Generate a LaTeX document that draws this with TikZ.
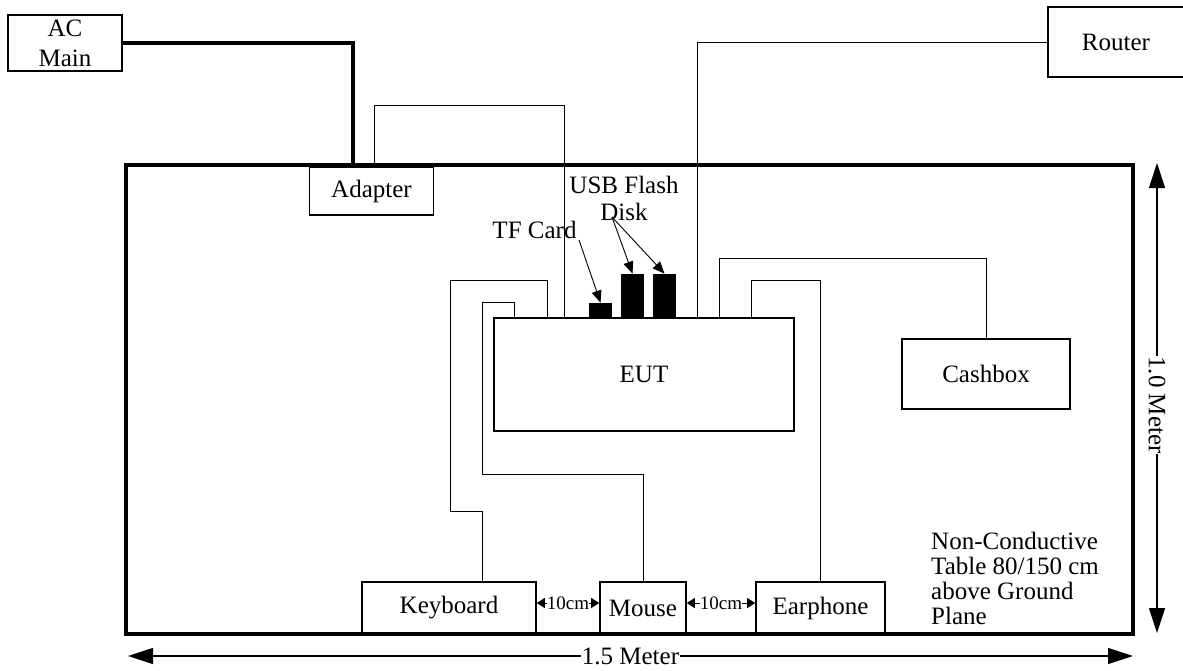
\documentclass[tikz,border=0pt]{standalone}
\usepackage{fontspec}
\setmainfont{Liberation Serif}
\usetikzlibrary{arrows.meta,calc}
\begin{document}
\begin{tikzpicture}[x=1pt,y=-1pt,
  txt/.style={font=\fontsize{25}{27}\selectfont},
  box/.style={draw, line width=1.6pt, inner sep=0pt, txt},
  cable/.style={line width=0.9pt},
  heavy/.style={line width=3.5pt},
  blk/.style={fill=black, inner sep=0pt, minimum width=23pt},
  lbl/.style={txt, inner sep=0pt, align=center},
  ptr/.style={line width=0.9pt, -{Triangle[length=12pt,width=10pt]}},
  dim/.style={line width=1.2pt, {Triangle[length=25pt,width=16pt]}-{Triangle[length=25pt,width=16pt]}},
  gap/.style={line width=0.8pt, {Triangle[length=8pt,width=10pt]}-{Triangle[length=8pt,width=10pt]}},
  gaplbl/.style={midway, fill=white, inner sep=0pt, font=\fontsize{19}{21}\selectfont},
]
\useasboundingbox (0,0) rectangle (1183,670);

% table
\node[draw, line width=3.5pt, minimum width=1007pt, minimum height=469pt, inner sep=0pt] (table) at (629.5,399.5) {};

% boxes
\node[box, minimum width=114pt, minimum height=56pt, align=center, font=\fontsize{25}{30}\selectfont] (ac) at (65,43) {AC\\Main};
\node[box, minimum width=136pt, minimum height=70pt] (rt) at (1116,42) {Router};
\node[box, fill=white, minimum width=124pt, minimum height=48pt] (ad) at (371.5,191) {Adapter};
\node[box, minimum width=300pt, minimum height=113pt] (eut) at (644,374.5) {EUT};
\node[box, minimum width=168pt, minimum height=70pt] (cb) at (986,374) {Cashbox};
\node[box, minimum width=174pt, minimum height=52pt] (kb) at (449,608) {Keyboard};
\node[box, minimum width=86pt, minimum height=52pt] (ms) at (643,608) {Mouse};
\node[box, minimum width=129pt, minimum height=52pt] (ep) at (820.5,608) {Earphone};

% storage devices
\node[blk, minimum height=15pt, anchor=south] (tf) at (600.5,318) {};
\node[blk, minimum height=44pt, anchor=south] (usb1) at (632.5,318) {};
\node[blk, minimum height=44pt, anchor=south] (usb2) at (664.5,318) {};

% labels
\node[lbl] (tfl) at (534.5,230) {TF Card};
\node[lbl, font=\fontsize{25}{27}\selectfont] (usbl) at (624,198) {USB Flash\\Disk};
\coordinate (tfsrc) at (579,240);
\coordinate (usbsrc) at (612,217);
\draw[ptr] (tfsrc) -- (tf.north);
\draw[ptr] (usbsrc) -- (usb1.north);
\draw[ptr] (usbsrc) -- (usb2.north);

% power
\coordinate (acin) at (353,165);
\draw[heavy] (ac.east) -| (acin);

% cables
\draw[cable] (ad.north -| 374,0) |- (564,105) -- (eut.north -| 564,0);
\draw[cable] (rt.west) -| (eut.north -| 697,0);
\draw[cable] (kb.north -| 482,0) |- (450,511) |- (547,280) -- (eut.north -| 547,0);
\draw[cable] (ms.north) |- (482,474) |- (514,302) -- (eut.north -| 514,0);
\draw[cable] (cb.north) |- (719,258) -- (eut.north -| 719,0);
\draw[cable] (ep.north) |- (751,280) -- (eut.north -| 751,0);

% gaps
\draw[gap] ([yshift=5pt]kb.east) -- ([yshift=5pt]ms.west) node[gaplbl] {10cm};
\draw[gap] ([yshift=5pt]ms.east) -- ([yshift=5pt]ep.west) node[gaplbl] {10cm};

% note
\node[lbl, align=left, anchor=north west, font=\fontsize{25}{25}\selectfont] (note) at (931,532) {Non-Conductive\\Table 80/150 cm\\above Ground\\Plane};

% dimensions
\coordinate (hl) at (128,656);
\coordinate (hr) at (1133,656);
\draw[dim] (hl) -- (hr) node[midway, fill=white, inner sep=0.5pt, txt] {1.5 Meter};
\coordinate (vt) at (1157,163);
\coordinate (vb) at (1157,633);
\draw[dim] (vt) -- (vb) node[pos=0.515, fill=white, inner sep=0.5pt, rotate=-90, txt] {1.0 Meter};
\end{tikzpicture}
\end{document}
